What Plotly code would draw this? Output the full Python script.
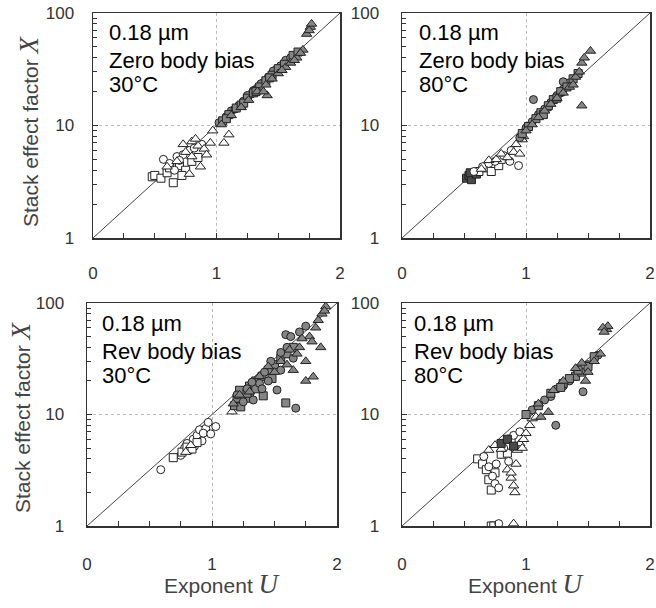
import plotly.graph_objects as go

# ---------------- data ----------------
x_ticks = [0, 1, 2]
y_ticks = [1, 10, 100]
diag_U = [0, 2]
diag_X = [1, 100]

panel_lines = [["0.18 \u00b5m", "Zero body bias", "30\u00b0C"],
               ["0.18 \u00b5m", "Zero body bias", "80\u00b0C"],
               ["0.18 \u00b5m", "Rev body bias", "30\u00b0C"],
               ["0.18 \u00b5m", "Rev body bias", "80\u00b0C"]]

# Panel 1: zero body bias, 30 C
p1_wsq_U = [0.48, 0.50, 0.55, 0.60, 0.65, 0.62, 0.70, 0.75, 0.72, 0.80, 0.85]
p1_wsq_X = [3.5, 3.6, 3.4, 3.8, 3.1, 4.2, 4.4, 4.0, 3.6, 4.8, 5.2]
p1_wci_U = [0.57, 0.62, 0.68, 0.73, 0.78, 0.82, 0.66, 0.88, 0.70]
p1_wci_X = [5.0, 4.6, 5.3, 5.5, 6.0, 6.3, 4.0, 6.8, 4.9]
p1_wtr_U = [0.60, 0.68, 0.75, 0.80, 0.85, 0.90, 0.92, 0.95, 0.80, 0.78, 0.87, 0.97, 1.06, 1.10, 0.73, 0.83]
p1_wtr_X = [4.3, 4.8, 5.8, 5.3, 6.6, 6.2, 5.5, 7.0, 7.2, 3.7, 4.3, 9.0, 7.0, 8.3, 6.8, 7.6]
p1_gci_U = [1.02, 1.08, 1.12, 1.18, 1.22, 1.28, 1.33, 1.38, 1.42, 1.48, 1.52, 1.56, 1.60, 1.30, 1.15, 1.25, 1.36, 1.46]
p1_gci_X = [10.6, 12.0, 13.5, 15.0, 16.5, 19.0, 21.5, 24.0, 27.0, 31.0, 34.0, 38.0, 40.0, 20.5, 14.0, 18.5, 23.5, 30.5]
p1_gsq_U = [1.05, 1.10, 1.16, 1.20, 1.25, 1.30, 1.35, 1.40, 1.45, 1.50, 1.55, 1.62, 1.66, 1.08, 1.22, 1.32, 1.43]
p1_gsq_X = [11.0, 12.5, 14.3, 15.2, 17.5, 19.5, 22.0, 25.0, 28.0, 32.0, 35.0, 42.0, 45.0, 11.5, 15.8, 20.0, 26.5]
p1_gtr_U = [1.04, 1.12, 1.20, 1.26, 1.33, 1.40, 1.45, 1.50, 1.56, 1.60, 1.65, 1.70, 1.73, 1.76, 1.77, 1.75, 1.68, 1.41, 1.38, 1.53, 1.63]
p1_gtr_X = [10.2, 12.3, 14.5, 16.8, 20.0, 23.0, 26.0, 29.0, 33.0, 36.0, 40.0, 47.0, 65.0, 75.0, 80.0, 70.0, 44.0, 18.5, 20.0, 31.0, 38.0]

# Panel 2: zero body bias, 80 C
p2_dsq_U = [0.52, 0.54, 0.56, 0.55, 0.60]
p2_dsq_X = [3.4, 3.6, 3.3, 3.8, 3.7]
p2_wsq_U = [0.62, 0.68, 0.72, 0.78, 0.80]
p2_wsq_X = [3.9, 4.2, 3.9, 4.4, 5.0]
p2_wci_U = [0.58, 0.65, 0.70, 0.75, 0.82, 0.87, 0.94, 0.88]
p2_wci_X = [3.9, 4.3, 4.6, 4.8, 5.4, 4.8, 4.4, 6.0]
p2_wtr_U = [0.64, 0.70, 0.76, 0.80, 0.85, 0.90, 0.95, 0.92, 0.97, 0.98]
p2_wtr_X = [4.1, 4.9, 5.0, 5.6, 5.2, 5.8, 5.6, 6.8, 7.5, 8.0]
p2_gci_U = [0.95, 1.00, 1.05, 1.10, 1.15, 1.20, 1.25, 1.30, 1.35, 1.30, 1.06, 1.18, 1.28]
p2_gci_X = [7.8, 9.5, 10.8, 12.5, 14.0, 16.0, 18.5, 21.0, 24.0, 24.5, 17.0, 14.5, 19.5]
p2_gsq_U = [0.97, 1.02, 1.08, 1.12, 1.18, 1.22, 1.28, 1.33, 1.38, 1.42, 1.14, 1.25]
p2_gsq_X = [8.5, 9.8, 11.5, 13.0, 15.0, 17.0, 20.0, 22.0, 26.0, 29.0, 12.5, 17.5]
p2_gtr_U = [1.00, 1.05, 1.10, 1.15, 1.20, 1.25, 1.30, 1.35, 1.40, 1.43, 1.45, 1.47, 1.52, 1.45, 1.38]
p2_gtr_X = [9.0, 10.2, 11.8, 13.5, 15.5, 17.5, 19.5, 22.0, 27.0, 30.0, 36.0, 40.0, 46.0, 15.0, 23.0]

# Panel 3: reverse body bias, 30 C
p3_wci_U = [0.59, 0.75, 0.78, 0.80, 0.82, 0.85, 0.88, 0.90, 0.92, 0.95, 0.97, 1.03, 0.86, 0.93, 0.99]
p3_wci_X = [3.2, 4.3, 5.0, 5.5, 4.8, 6.0, 6.5, 7.3, 5.8, 7.5, 8.5, 7.8, 5.2, 6.8, 6.7]
p3_wsq_U = [0.69, 0.76, 0.80, 0.84, 0.88]
p3_wsq_X = [4.1, 4.6, 5.1, 4.9, 5.6]
p3_wtr_U = [0.79, 0.83, 1.16]
p3_wtr_X = [4.6, 5.3, 10.6]
p3_gsq_U = [1.18, 1.20, 1.23, 1.25, 1.30, 1.35, 1.40, 1.41, 1.45, 1.50, 1.55, 1.59, 1.60, 1.65, 1.30, 1.35, 1.22, 1.28, 1.48]
p3_gsq_X = [12.0, 14.0, 11.7, 16.0, 18.0, 20.0, 22.0, 14.7, 25.0, 28.0, 32.0, 12.7, 35.0, 40.0, 14.0, 17.0, 16.5, 15.5, 21.0]
p3_gci_U = [1.20, 1.25, 1.28, 1.33, 1.38, 1.42, 1.47, 1.52, 1.55, 1.59, 1.63, 1.67, 1.70, 1.75, 1.45, 1.55, 1.65, 1.32, 1.40, 1.60]
p3_gci_X = [15.0, 13.0, 17.0, 13.5, 19.0, 24.0, 30.0, 16.6, 36.0, 52.0, 50.0, 11.4, 55.0, 62.0, 20.0, 25.0, 32.0, 19.5, 17.0, 40.0]
p3_gtr_U = [1.17, 1.22, 1.30, 1.38, 1.45, 1.50, 1.55, 1.60, 1.65, 1.68, 1.70, 1.75, 1.78, 1.80, 1.81, 1.83, 1.85, 1.88, 1.91, 1.87, 1.90, 1.75, 1.72, 1.62]
p3_gtr_X = [12.5, 15.0, 16.0, 22.0, 27.0, 24.0, 30.0, 28.0, 25.0, 35.0, 40.0, 30.0, 50.0, 45.0, 21.8, 60.0, 70.0, 80.0, 93.0, 40.0, 85.0, 20.0, 48.0, 38.0]

# Panel 4: reverse body bias, 80 C
p4_wsq_U = [0.61, 0.65, 0.68, 0.70, 0.72, 0.75, 0.80, 0.85, 0.72, 0.74, 0.88]
p4_wsq_X = [4.0, 3.6, 3.2, 2.6, 2.1, 3.0, 4.4, 4.5, 1.0, 1.0, 6.0]
p4_wci_U = [0.66, 0.70, 0.73, 0.75, 0.78, 0.76, 0.82, 0.86, 0.90, 0.78, 0.95]
p4_wci_X = [4.2, 3.4, 2.8, 2.4, 2.2, 3.6, 5.0, 3.8, 6.5, 1.05, 7.0]
p4_wtr_U = [0.70, 0.75, 0.80, 0.85, 0.88, 0.90, 0.91, 0.92, 0.93, 0.95, 1.00, 1.03, 1.05, 0.90, 0.88, 0.97, 0.98, 1.08]
p4_wtr_X = [4.8, 5.3, 4.9, 3.2, 2.7, 2.3, 2.0, 3.6, 4.8, 5.5, 6.8, 8.0, 9.2, 1.05, 3.0, 5.0, 6.0, 9.5]
p4_dsq_U = [0.80, 0.85, 0.90]
p4_dsq_X = [5.5, 6.0, 5.2]
p4_gci_U = [1.24, 1.46, 1.35, 1.40, 1.20, 1.30, 1.05, 1.15, 1.25, 1.50, 1.58]
p4_gci_X = [8.0, 16.0, 20.0, 22.0, 14.5, 18.0, 11.0, 13.5, 17.0, 28.0, 34.0]
p4_gsq_U = [1.40, 1.45, 1.30, 1.10, 1.50, 1.00, 1.20, 1.35, 1.55, 1.28, 1.42]
p4_gsq_X = [22.0, 24.0, 19.0, 12.0, 27.0, 10.0, 15.5, 21.0, 33.0, 17.5, 25.0]
p4_gtr_U = [1.12, 1.18, 1.50, 1.55, 1.60, 1.65, 1.66, 1.62, 1.63, 1.40, 1.45, 1.30, 1.10, 1.22, 1.48]
p4_gtr_X = [9.5, 10.5, 24.0, 30.0, 35.0, 58.0, 62.0, 60.0, 55.0, 26.0, 29.0, 20.0, 12.5, 16.5, 20.0]

panels = [
    [("wsq", p1_wsq_U, p1_wsq_X), ("wci", p1_wci_U, p1_wci_X), ("wtr", p1_wtr_U, p1_wtr_X),
     ("gci", p1_gci_U, p1_gci_X), ("gsq", p1_gsq_U, p1_gsq_X), ("gtr", p1_gtr_U, p1_gtr_X)],
    [("dsq", p2_dsq_U, p2_dsq_X), ("wsq", p2_wsq_U, p2_wsq_X), ("wci", p2_wci_U, p2_wci_X),
     ("wtr", p2_wtr_U, p2_wtr_X), ("gci", p2_gci_U, p2_gci_X), ("gsq", p2_gsq_U, p2_gsq_X),
     ("gtr", p2_gtr_U, p2_gtr_X)],
    [("wci", p3_wci_U, p3_wci_X), ("wsq", p3_wsq_U, p3_wsq_X), ("wtr", p3_wtr_U, p3_wtr_X),
     ("gsq", p3_gsq_U, p3_gsq_X), ("gci", p3_gci_U, p3_gci_X), ("gtr", p3_gtr_U, p3_gtr_X)],
    [("wsq", p4_wsq_U, p4_wsq_X), ("wci", p4_wci_U, p4_wci_X), ("wtr", p4_wtr_U, p4_wtr_X),
     ("dsq", p4_dsq_U, p4_dsq_X), ("gci", p4_gci_U, p4_gci_X), ("gsq", p4_gsq_U, p4_gsq_X),
     ("gtr", p4_gtr_U, p4_gtr_X)],
]

# ---------------- styles ----------------
styles = {
    "wsq": dict(symbol="square", color="white", size=8),
    "wci": dict(symbol="circle", color="white", size=8),
    "wtr": dict(symbol="triangle-up", color="white", size=9),
    "gsq": dict(symbol="square", color="#858585", size=8),
    "gci": dict(symbol="circle", color="#858585", size=8),
    "gtr": dict(symbol="triangle-up", color="#858585", size=9),
    "dsq": dict(symbol="square", color="#4a4a4a", size=8),
}

# body margin is removed by a small post script, so the figure fills the page
W, H = 656, 608
# panel boxes in page pixels: (left, right, top, bottom)
boxes = [(93, 340, 13, 238), (402, 650, 13, 238), (87, 337, 303, 526), (402, 650, 303, 526)]
standoff_x = [19, 19, 22, 22]
standoff_y = [14, 18, 18, 18]
text_left = [14, 15, 13, 10]
line_offsets = [20, 48, 72]


def px(v):
    return v / W


def py(v):
    return 1 - v / H


fig = go.Figure()
FONT = "Liberation Sans, Arial, sans-serif"
minor_y = [m * d for d in (1, 10) for m in range(2, 10)]

layout = dict(width=W, height=H, margin=dict(l=0, r=0, t=0, b=0, autoexpand=False),
              paper_bgcolor="white", plot_bgcolor="white", showlegend=False,
              font=dict(family=FONT, size=17, color="#333"))
annotations = []
for i, (l, r, t, b) in enumerate(boxes):
    n = "" if i == 0 else str(i + 1)
    xa, ya = "x" + n, "y" + n
    layout["xaxis" + n] = dict(
        domain=[px(l), px(r)], range=[0, 2], anchor=ya, automargin=False,
        tickmode="array", tickvals=x_ticks, ticktext=[str(v) for v in x_ticks],
        ticks="inside", ticklen=5, tickcolor="#333", ticklabeloverflow="allow",
        minor=dict(dtick=0.25, tick0=0, ticks="inside", ticklen=5, tickcolor="#333", showgrid=False),
        showline=True, linecolor="#333", linewidth=1.5, mirror=True,
        showgrid=True, gridcolor="#bbbbbb", griddash="dot", gridwidth=1,
        zeroline=False, ticklabelstandoff=standoff_x[i],
        tickfont=dict(size=17, color="#333"))
    layout["yaxis" + n] = dict(
        domain=[py(b), py(t)], type="log", range=[0, 2], anchor=xa, automargin=False,
        tickmode="array", tickvals=y_ticks, ticktext=[str(v) for v in y_ticks],
        ticks="inside", ticklen=5, tickcolor="#333", ticklabeloverflow="allow",
        minor=dict(tickmode="array", tickvals=minor_y, ticks="inside", ticklen=4,
                   tickcolor="#333", showgrid=False),
        showline=True, linecolor="#333", linewidth=1.5, mirror=True,
        showgrid=True, gridcolor="#bbbbbb", griddash="dot", gridwidth=1,
        zeroline=False, ticklabelstandoff=standoff_y[i],
        tickfont=dict(size=17, color="#333"))

    fig.add_trace(go.Scatter(x=diag_U, y=diag_X, mode="lines", xaxis=xa, yaxis=ya,
                             line=dict(color="#444", width=1), hoverinfo="skip"))
    for key, U, X in panels[i]:
        st = styles[key]
        fig.add_trace(go.Scatter(
            x=U, y=X, mode="markers", xaxis=xa, yaxis=ya,
            marker=dict(symbol=st["symbol"], size=st["size"], color=st["color"],
                        line=dict(color="#222", width=1))))

    for k, txt in enumerate(panel_lines[i]):
        annotations.append(dict(
            text=txt, xref="paper", yref="paper",
            x=px(l + text_left[i]), y=py(t + line_offsets[k]),
            xanchor="left", yanchor="middle", align="left", showarrow=False,
            font=dict(family=FONT, size=22, color="black")))

ytitle = ("Stack effect factor <span style=\"font-family:'Liberation Serif',serif;"
          "font-size:27px\"><i>X</i></span>")
xtitle = ("Exponent <span style=\"font-family:'Liberation Serif',serif;"
          "font-size:27px\"><i>U</i></span>")
for cx, cy in [(29, 131), (21, 417)]:
    annotations.append(dict(text=ytitle, textangle=-90, xref="paper", yref="paper",
                            x=px(cx), y=py(cy), xanchor="center", yanchor="middle",
                            showarrow=False, font=dict(family=FONT, size=21, color="#444")))
for cx, cy in [(222, 584), (526, 584)]:
    annotations.append(dict(text=xtitle, xref="paper", yref="paper",
                            x=px(cx), y=py(cy), xanchor="center", yanchor="middle",
                            showarrow=False, font=dict(family=FONT, size=21, color="#444")))
layout["annotations"] = annotations
fig.update_layout(**layout)
fig.write_html("out.html",
               config={"displayModeBar": False, "staticPlot": True},
               post_script="document.body.style.margin='0px';document.body.style.overflow='hidden';")
